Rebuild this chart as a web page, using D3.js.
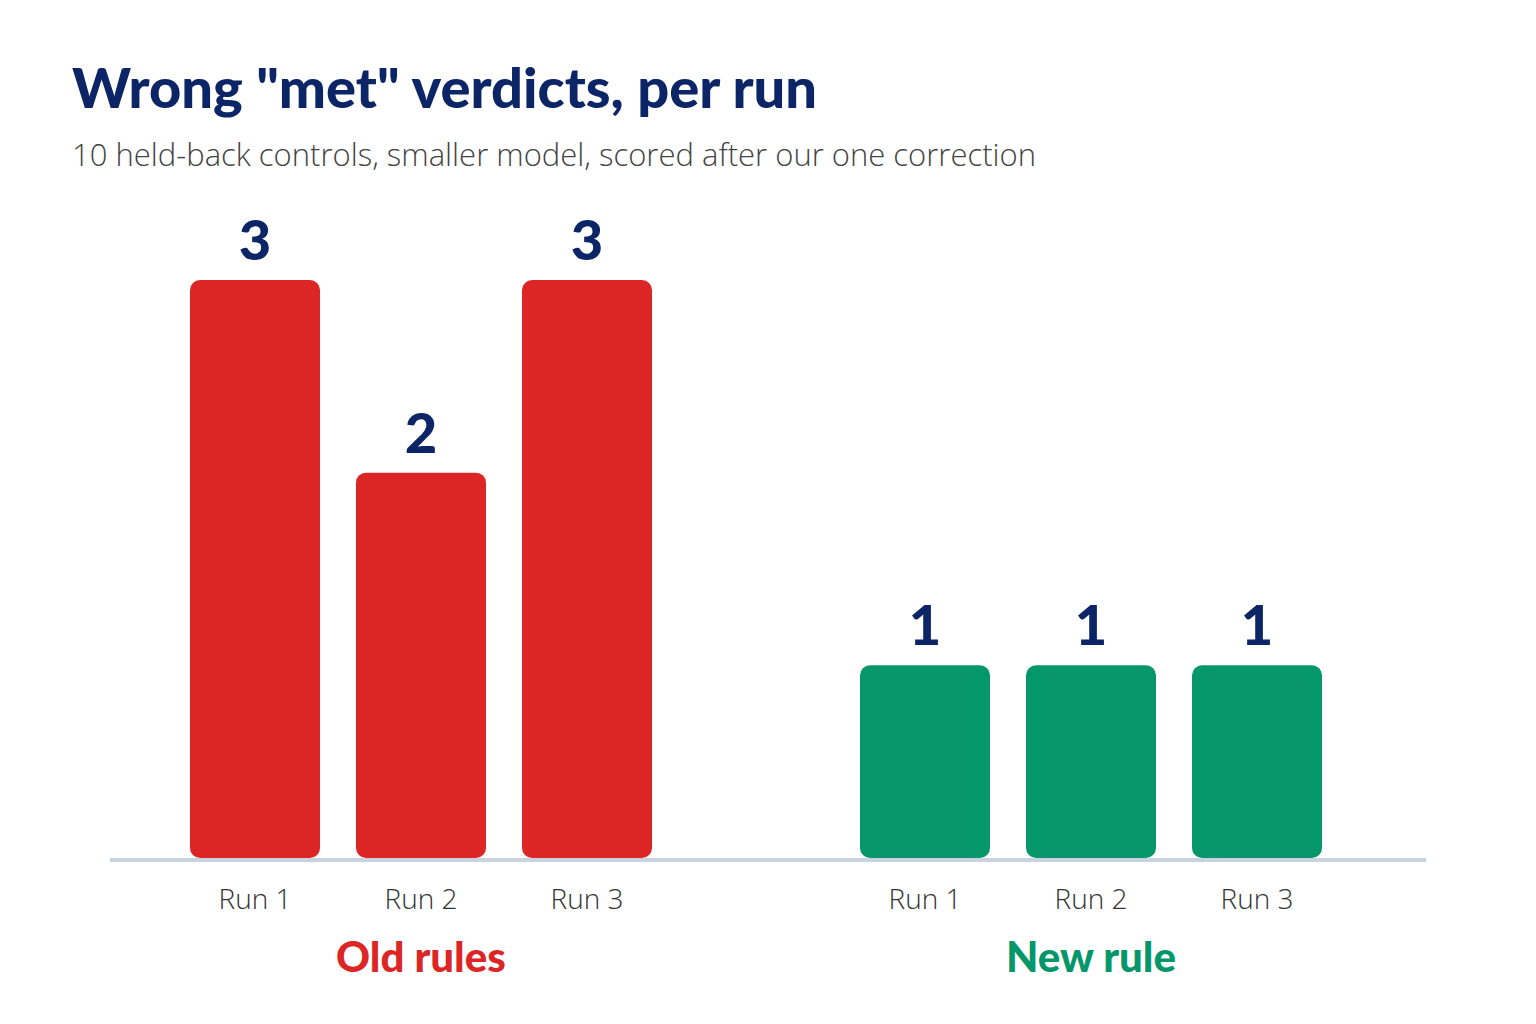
<!DOCTYPE html>
<html>
<head>
<meta charset="utf-8">
<script src="https://cdn.jsdelivr.net/npm/d3@7"></script>
<style>
  body { margin: 0; background: #fff; }
</style>
</head>
<body>
<div id="chart"></div>
<script>
// data
var runs = ["Run 1", "Run 2", "Run 3"]
var groups = ["Old rules", "New rule"]
var oldValues = [3, 2, 3]
var newValues = [1, 1, 1]
var groupColors = ["#dc2626", "#059669"]

var W = 1536, H = 1024
var baseY = 858
var svg = d3.select("#chart").append("svg").attr("width", W).attr("height", H)

svg.append("text").attr("x", 72).attr("y", 108)
  .attr("font-family", "Lato").attr("font-weight", 900).attr("font-size", 56)
  .attr("fill", "#0b2566").text('Wrong "met" verdicts, per run')
svg.append("text").attr("x", 72).attr("y", 166)
  .attr("font-family", "Open Sans").attr("font-weight", 300).attr("font-size", 31)
  .attr("fill", "#444").text("10 held-back controls, smaller model, scored after our one correction")

var y = d3.scaleLinear().domain([0, 3]).range([baseY, 280])

var series = [oldValues, newValues]
var ranges = [[172, 670], [842, 1340]]

series.forEach(function (vals, g) {
  var x = d3.scaleBand().domain(runs).range(ranges[g]).paddingInner(36 / 166).paddingOuter(18 / 166)
  var grp = svg.append("g")
  grp.selectAll("rect").data(vals).enter().append("rect")
    .attr("x", function (d, i) { return x(runs[i]) })
    .attr("y", function (d) { return y(d) })
    .attr("width", x.bandwidth())
    .attr("height", function (d) { return baseY - y(d) })
    .attr("rx", 10)
    .attr("fill", groupColors[g])
  grp.selectAll("text.val").data(vals).enter().append("text").attr("class", "val")
    .attr("x", function (d, i) { return x(runs[i]) + x.bandwidth() / 2 })
    .attr("y", function (d) { return y(d) - 20 })
    .attr("text-anchor", "middle")
    .attr("font-family", "Lato").attr("font-weight", 900).attr("font-size", 56)
    .attr("fill", "#0b2566").text(function (d) { return d })
  grp.selectAll("text.cat").data(runs).enter().append("text").attr("class", "cat")
    .attr("x", function (d) { return x(d) + x.bandwidth() / 2 })
    .attr("y", 909).attr("text-anchor", "middle")
    .attr("font-family", "Open Sans").attr("font-weight", 300).attr("font-size", 28)
    .attr("fill", "#333").text(function (d) { return d })
  grp.append("text")
    .attr("x", (ranges[g][0] + ranges[g][1]) / 2).attr("y", 972).attr("text-anchor", "middle")
    .attr("font-family", "Lato").attr("font-weight", 900).attr("font-size", 42)
    .attr("fill", groupColors[g]).text(groups[g])
})

svg.append("line").attr("x1", 110).attr("x2", 1426).attr("y1", 860).attr("y2", 860)
  .attr("stroke", "#c9d3e0").attr("stroke-width", 4)
</script>
</body>
</html>
